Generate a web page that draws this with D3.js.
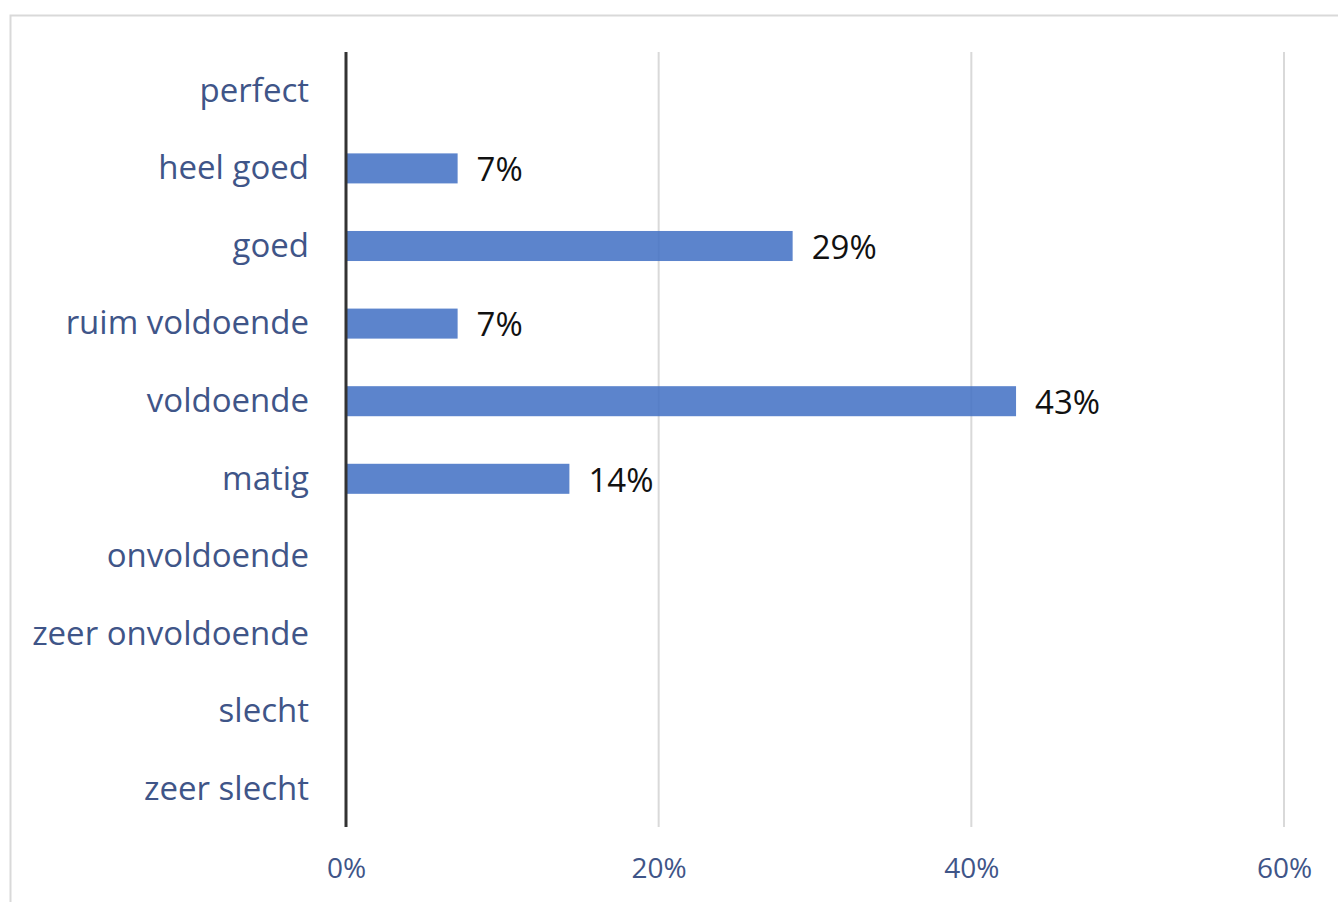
<!DOCTYPE html>
<html><head><meta charset="utf-8">
<script src="https://cdn.jsdelivr.net/npm/d3@7"></script>
<style>html,body{margin:0;padding:0;background:#fff;}svg{display:block;}</style>
</head><body>
<script>
const categories = ["perfect","heel goed","goed","ruim voldoende","voldoende","matig","onvoldoende","zeer onvoldoende","slecht","zeer slecht"];
const values = [null, 7.14, 28.57, 7.14, 42.86, 14.29, null, null, null, null];
const valueLabels = ["", "7%", "29%", "7%", "43%", "14%", "", "", "", ""];
const xTicks = [0, 20, 40, 60];
const xTickLabels = ["0%", "20%", "40%", "60%"];

const W = 1338, H = 902;
const svg = d3.select("body").append("svg").attr("width", W).attr("height", H);
const font = "'Open Sans', Lato, sans-serif";

svg.append("rect").attr("x", 10.5).attr("y", 15.5).attr("width", W + 20).attr("height", H + 20)
  .attr("fill", "#fff").attr("stroke", "#d9d9d9").attr("stroke-width", 2);

const x = d3.scaleLinear().domain([0, 60]).range([346, 1284]);
const y = d3.scaleBand().domain(categories).range([52, 828]).paddingInner(0.613).paddingOuter(0.3065);

// gridlines
svg.append("g").selectAll("line").data(xTicks.filter(t => t > 0)).join("line")
  .attr("x1", d => x(d)).attr("x2", d => x(d)).attr("y1", 52).attr("y2", 827)
  .attr("stroke", "#d9d9d9").attr("stroke-width", 2);

const rows = categories.map((c, i) => ({c, v: values[i], l: valueLabels[i]})).filter(d => d.v != null);

// bars
svg.append("g").selectAll("rect").data(rows).join("rect")
  .attr("x", x(0)).attr("y", d => y(d.c)).attr("width", d => x(d.v) - x(0)).attr("height", y.bandwidth())
  .attr("fill", "#4472c4").attr("fill-opacity", 0.87);

// value labels
svg.append("g").selectAll("text").data(rows).join("text")
  .attr("x", d => x(d.v) + 19).attr("y", d => y(d.c) + y.bandwidth() / 2 + 1)
  .attr("dy", "0.36em").attr("font-family", font).attr("font-size", 33).attr("fill", "#111")
  .text(d => d.l);

// y axis
const yAxis = d3.axisLeft(y).tickSize(0).tickPadding(37);
const gy = svg.append("g").attr("transform", `translate(${x(0)},0)`).call(yAxis);
gy.select(".domain").remove();
gy.selectAll("text").attr("font-family", font).attr("font-size", 33).attr("fill", "#3f5588").attr("dy", "0.33em");

svg.append("line").attr("x1", x(0)).attr("x2", x(0)).attr("y1", 52).attr("y2", 827)
  .attr("stroke", "#333").attr("stroke-width", 3);

// x axis labels
const xAxis = d3.axisBottom(x).tickValues(xTicks).tickFormat((d, i) => xTickLabels[i]).tickSize(0).tickPadding(0);
const gx = svg.append("g").attr("transform", `translate(0,868)`).call(xAxis);
gx.select(".domain").remove();
gx.selectAll("text").attr("font-family", font).attr("font-size", 28).attr("fill", "#3f5588").attr("dy", "0.35em");
</script>
</body></html>
